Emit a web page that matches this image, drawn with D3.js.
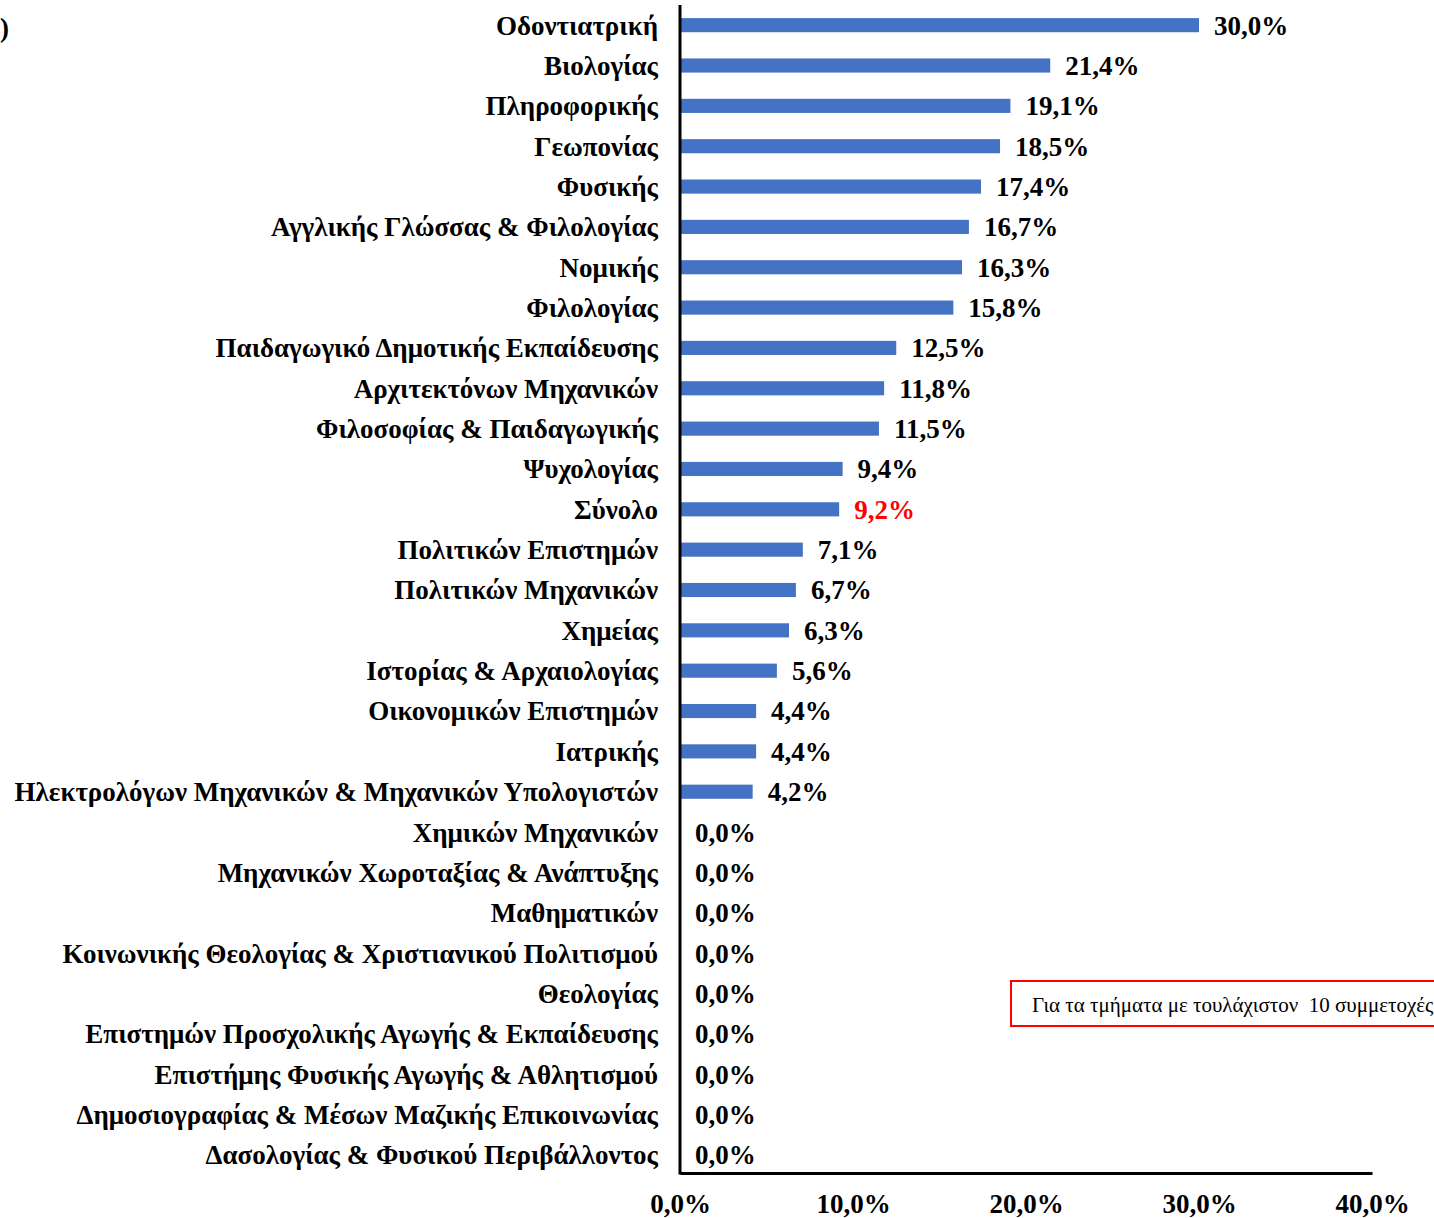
<!DOCTYPE html>
<html>
<head>
<meta charset="utf-8">
<script src="https://cdn.jsdelivr.net/npm/d3@7"></script>
<style>
  body { margin: 0; background: #fff; }
  svg { display: block; font-family: "Liberation Serif", "Times New Roman", serif; }
</style>
</head>
<body>
<svg width="1434" height="1218"></svg>
<script>
// Departments and share values (%)
var departments = [
  "Οδοντιατρική", "Βιολογίας", "Πληροφορικής", "Γεωπονίας", "Φυσικής",
  "Αγγλικής Γλώσσας & Φιλολογίας", "Νομικής", "Φιλολογίας",
  "Παιδαγωγικό Δημοτικής Εκπαίδευσης", "Αρχιτεκτόνων Μηχανικών",
  "Φιλοσοφίας & Παιδαγωγικής", "Ψυχολογίας", "Σύνολο", "Πολιτικών Επιστημών",
  "Πολιτικών Μηχανικών", "Χημείας", "Ιστορίας & Αρχαιολογίας",
  "Οικονομικών Επιστημών", "Ιατρικής",
  "Ηλεκτρολόγων Μηχανικών & Μηχανικών Υπολογιστών", "Χημικών Μηχανικών",
  "Μηχανικών Χωροταξίας & Ανάπτυξης", "Μαθηματικών",
  "Κοινωνικής Θεολογίας & Χριστιανικού Πολιτισμού", "Θεολογίας",
  "Επιστημών Προσχολικής Αγωγής & Εκπαίδευσης",
  "Επιστήμης Φυσικής Αγωγής & Αθλητισμού",
  "Δημοσιογραφίας & Μέσων Μαζικής Επικοινωνίας",
  "Δασολογίας & Φυσικού Περιβάλλοντος"
];
var values = [
  30.0, 21.4, 19.1, 18.5, 17.4, 16.7, 16.3, 15.8, 12.5, 11.8, 11.5, 9.4, 9.2,
  7.1, 6.7, 6.3, 5.6, 4.4, 4.4, 4.2, 0, 0, 0, 0, 0, 0, 0, 0, 0
];
var xTicks = [0, 10, 20, 30, 40];
var totalLabel = "Σύνολο";
var noteText = "Για τα τμήματα με τουλάχιστον\u00a0 10 συμμετοχές";

var data = departments.map(function(d, i) { return {name: d, value: values[i]}; });

var svg = d3.select("svg");
var fmt = function(v) { return v.toFixed(1).replace(".", ",") + "%"; };

// x runs from the vertical axis to the last tick, y is one band per department
var x = d3.scaleLinear().domain([0, 40]).range([680, 1372]);
var y = d3.scaleBand()
    .domain(departments)
    .range([5, 1175])
    .paddingInner(0.65)
    .paddingOuter(0.325);

// bars
svg.append("g").selectAll("rect")
    .data(data)
  .enter().append("rect")
    .attr("x", x(0))
    .attr("y", function(d) { return y(d.name); })
    .attr("width", function(d) { return x(d.value) - x(0); })
    .attr("height", y.bandwidth())
    .attr("fill", "#4472C4");

// category labels
svg.append("g").selectAll("text")
    .data(data)
  .enter().append("text")
    .attr("x", x(0) - 22)
    .attr("y", function(d) { return y(d.name) + y.bandwidth() / 2; })
    .attr("dy", "0.35em")
    .attr("text-anchor", "end")
    .attr("font-size", "27px")
    .attr("font-weight", "bold")
    .attr("fill", "#000")
    .text(function(d) { return d.name; });

// value labels
svg.append("g").selectAll("text")
    .data(data)
  .enter().append("text")
    .attr("x", function(d) { return x(d.value) + 15; })
    .attr("y", function(d) { return y(d.name) + y.bandwidth() / 2; })
    .attr("dy", "0.35em")
    .attr("font-size", "27px")
    .attr("font-weight", "bold")
    .attr("fill", function(d) { return d.name === totalLabel ? "#FF0000" : "#000"; })
    .text(function(d) { return fmt(d.value); });

// axes (lines only, labels below)
var xAxis = svg.append("g")
    .attr("transform", "translate(0,1173)")
    .call(d3.axisBottom(x).tickValues(xTicks).tickSize(0).tickPadding(21).tickFormat(fmt));
xAxis.select(".domain").attr("stroke", "#000").attr("stroke-width", 3);
xAxis.selectAll("text")
    .attr("font-family", "Liberation Serif, Times New Roman, serif")
    .attr("font-size", "27px")
    .attr("font-weight", "bold")
    .attr("fill", "#000");

svg.append("line")
    .attr("x1", x(0)).attr("x2", x(0))
    .attr("y1", 5).attr("y2", 1174.5)
    .attr("stroke", "#000")
    .attr("stroke-width", 3);

// fragment of a title that falls off the left edge
svg.append("text")
    .attr("x", 0)
    .attr("y", 37)
    .attr("font-size", "27px")
    .attr("font-weight", "bold")
    .text(")");

// note box
svg.append("rect")
    .attr("x", 1011).attr("y", 981)
    .attr("width", 460).attr("height", 45)
    .attr("fill", "#fff")
    .attr("stroke", "#FF0000")
    .attr("stroke-width", 2);
svg.append("text")
    .attr("x", 1032).attr("y", 1012)
    .attr("font-size", "21px")
    .attr("fill", "#000")
    .text(noteText);
</script>
</body>
</html>
